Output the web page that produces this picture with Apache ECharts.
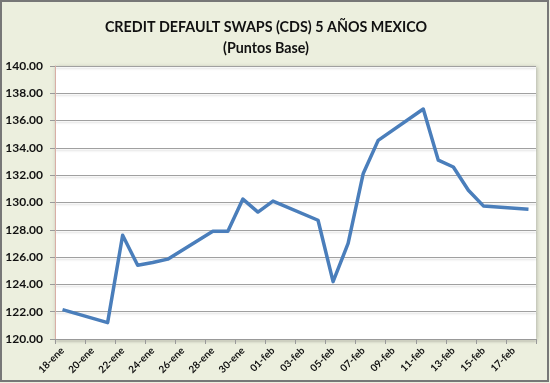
<!DOCTYPE html>
<html>
<head>
<meta charset="utf-8">
<script src="https://cdn.jsdelivr.net/npm/echarts@6/dist/echarts.min.js"></script>
<style>
html,body{margin:0;padding:0;background:#ECEFDE;}
#c{width:550px;height:383px;}
</style>
</head>
<body>
<div id="c"></div>
<script>
var days = ['18-ene','19-ene','20-ene','21-ene','22-ene','23-ene','24-ene','25-ene','26-ene','27-ene','28-ene','29-ene','30-ene','31-ene',
            '01-feb','02-feb','03-feb','04-feb','05-feb','06-feb','07-feb','08-feb','09-feb','10-feb','11-feb','12-feb','13-feb','14-feb','15-feb','16-feb','17-feb','18-feb'];
var cds = [122.15,null,null,121.2,127.6,125.4,125.6,125.85,null,null,127.9,127.9,130.25,129.3,
           130.1,null,null,128.7,124.2,127.0,132.1,134.55,null,null,136.85,133.1,132.6,130.9,129.75,null,null,129.5];
var titleText = 'CREDIT DEFAULT SWAPS (CDS) 5 AÑOS MEXICO';
var subTitleText = '(Puntos Base)';

var chart = echarts.init(document.getElementById('c'));
chart.setOption({
  backgroundColor: '#ECEFDE',
  animation: false,
  title: {
    text: titleText + '\n' + subTitleText,
    left: 261, top: 12, textAlign: 'center',
    textStyle: {fontFamily: 'Lato', fontWeight: 'bold', fontSize: 14.3, color: '#111', lineHeight: 21}
  },
  graphic: [{
    type: 'rect', shape: {x: 1, y: 1, width: 547, height: 380},
    style: {fill: 'none', stroke: '#777', lineWidth: 2}, silent: true, z: 100
  }],
  grid: {
    left: 55, right: 14, top: 66, bottom: 44,
    show: true, backgroundColor: '#fff', borderWidth: 0,
    shadowColor: 'rgba(0,0,0,0.25)', shadowBlur: 4, shadowOffsetX: 1, shadowOffsetY: 1
  },
  xAxis: {
    type: 'category', data: days, boundaryGap: true,
    axisLine: {lineStyle: {color: '#999', width: 1}},
    axisTick: {show: true, interval: 1, length: 5, lineStyle: {color: '#999'}},
    axisLabel: {interval: 1, rotate: 45, margin: 10, fontFamily: 'Lato', fontWeight: 'bold', fontSize: 10, color: '#111'},
    splitLine: {show: false}
  },
  yAxis: {
    type: 'value', min: 120, max: 140, interval: 2,
    axisLine: {show: true, lineStyle: {color: '#D8AFA6', width: 1}},
    axisTick: {show: true, length: 5, lineStyle: {color: '#999'}},
    axisLabel: {margin: 12, formatter: function(v){return v.toFixed(2);}, fontFamily: 'Lato', fontWeight: 'bold', fontSize: 12, color: '#111'},
    splitLine: {lineStyle: {color: '#a0a0a0', width: 1, shadowColor: 'rgba(0,0,0,0.15)', shadowBlur: 2, shadowOffsetY: 2}}
  },
  series: [{
    type: 'line', data: cds, connectNulls: true, showSymbol: false, symbol: 'none',
    lineStyle: {color: '#4A7EBB', width: 3.5, join: 'round'}
  }]
});
</script>
</body>
</html>
